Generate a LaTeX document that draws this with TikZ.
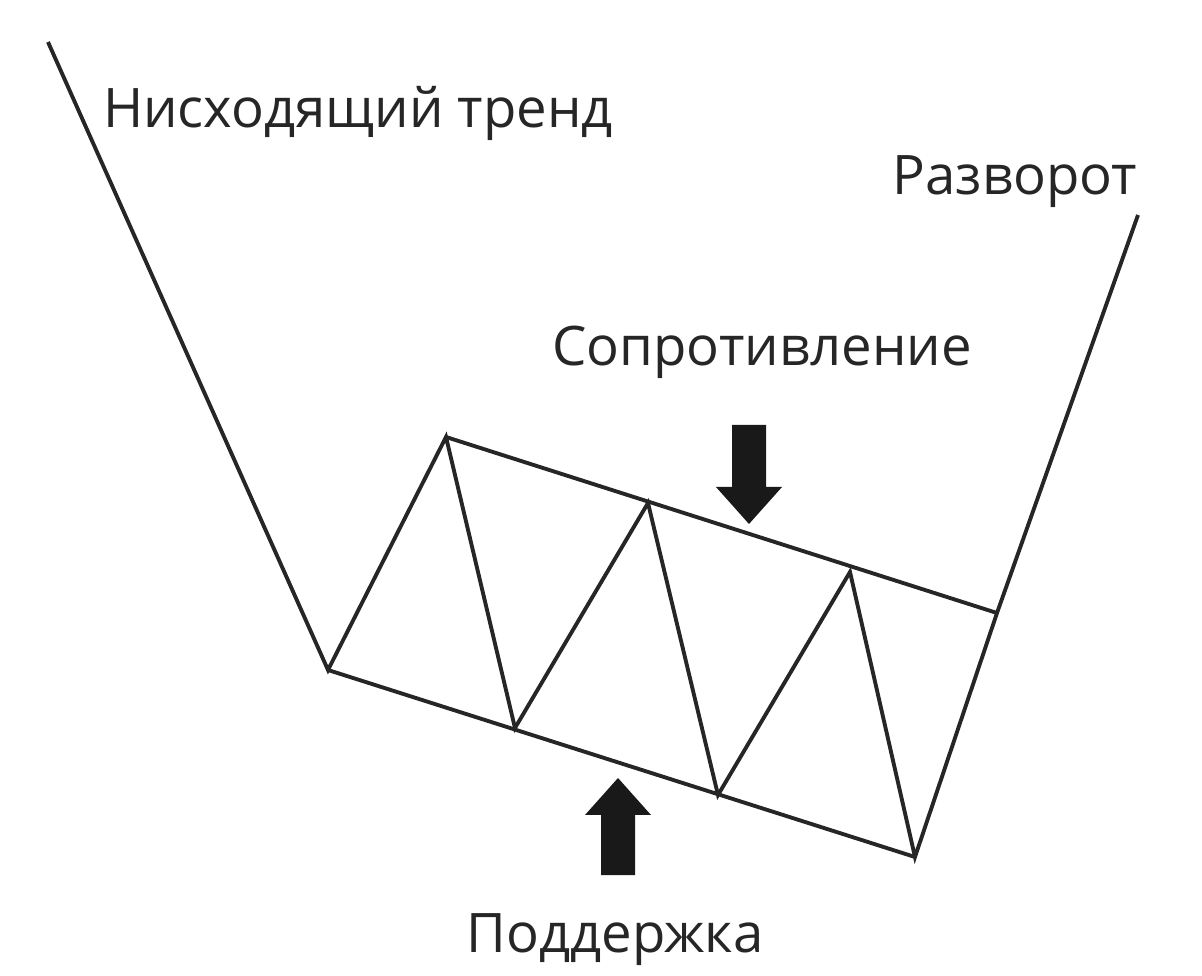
\documentclass[tikz,border=0pt]{standalone}
\usepackage{fontspec}
\setmainfont{Open Sans}
\begin{document}
\begin{tikzpicture}[x=0.01cm,y=-0.01cm,
  ln/.style={line width=1.1pt,black!85},
  lbl/.style={font=\fontsize{15.5}{18}\selectfont,text=black!85,inner sep=0}]
\useasboundingbox (0,0) rectangle (1202,976);
\coordinate (s) at (48,42);
\coordinate (p1) at (328,670);
\coordinate (p2) at (446,437);
\coordinate (p3) at (515,728);
\coordinate (p4) at (648,503);
\coordinate (p5) at (718,795);
\coordinate (p6) at (850,572);
\coordinate (p7) at (915,857);
\coordinate (p8) at (997,613);
\coordinate (e) at (1138,215);
\draw[ln,line join=miter] (s)--(p1)--(p2)--(p3)--(p4)--(p5)--(p6)--(p7)--(p8)--(e);
\draw[ln] (p2)--(p8);
\draw[ln] (p1)--(p7);
\fill[black!90] (732,425) rectangle (766,487) (716,487) -- (782,487) -- (749,524) -- cycle;
\fill[black!90] (601,875) rectangle (635,815) (585,815) -- (651,815) -- (618,778) -- cycle;
\node[lbl] (t1) at (358,113) {Нисходящий тренд};
\node[lbl] (t2) at (1015,182) {Разворот};
\node[lbl] (t3) at (762,352) {Сопротивление};
\node[lbl] (t4) at (615,940) {Поддержка};
\end{tikzpicture}
\end{document}
